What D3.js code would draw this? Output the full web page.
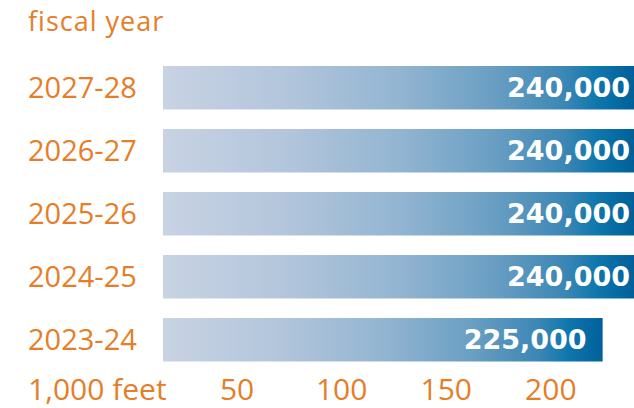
<!DOCTYPE html>
<html>
<head>
<meta charset="utf-8">
<script src="https://cdn.jsdelivr.net/npm/d3@7"></script>
<style>
  body { margin: 0; background: #fff; }
  svg { display: block; }
  text { font-family: "Open Sans", sans-serif; }
</style>
</head>
<body>
<div id="chart"></div>
<script>
// data
const years = ["2027-28", "2026-27", "2025-26", "2024-25", "2023-24"]
const feet = [240, 240, 240, 240, 225]   // thousands of feet
const tickValues = [50, 100, 150, 200]

const width = 634, height = 408
const orange = "#e67d28"
const barLeft = 163

const svg = d3.select("#chart")
    .append("svg")
    .attr("width", width)
    .attr("height", height)

const x = d3.scaleLinear()
    .domain([0, 240])
    .range([132, 634])

const y = d3.scaleBand()
    .domain(years)
    .range([66, 361.5])
    .paddingInner(0.31)

// gradient light -> dark blue across each bar
const grad = svg.append("defs").append("linearGradient")
    .attr("id", "barGrad")
    .attr("x1", "0%").attr("x2", "100%")
    .attr("y1", "0%").attr("y2", "0%")
const stops = [
    [0, "#c8d3e3"], [0.25, "#b4c6dc"], [0.5, "#93b5d1"],
    [0.7, "#6a9fc3"], [0.85, "#3d87b5"], [0.92, "#0f77ad"], [1, "#00609a"]
]
grad.selectAll("stop")
    .data(stops)
    .enter()
    .append("stop")
    .attr("offset", d => d[0])
    .attr("stop-color", d => d[1])

const rows = years.map((yr, i) => ({year: yr, value: feet[i]}))

// header
svg.append("text")
    .attr("x", 28)
    .attr("y", 31)
    .style("font-size", "27px")
    .style("letter-spacing", "1px")
    .style("fill", orange)
    .text("fiscal year")

// bars
svg.selectAll("rect.bar")
    .data(rows)
    .enter()
    .append("rect")
    .attr("class", "bar")
    .attr("x", barLeft)
    .attr("y", d => y(d.year))
    .attr("width", d => x(d.value) - barLeft)
    .attr("height", y.bandwidth())
    .style("fill", "url(#barGrad)")

// year labels
svg.selectAll("text.year")
    .data(rows)
    .enter()
    .append("text")
    .attr("class", "year")
    .attr("x", 28)
    .attr("y", d => y(d.year) + y.bandwidth() / 2)
    .attr("dy", "0.36em")
    .style("font-size", "29px")
    .style("fill", orange)
    .text(d => d.year)

// value labels (bars that run to the edge keep their label near the edge)
const labelEnd = v => x(v) >= width - 1 ? width - 4 : x(v) - 16
svg.selectAll("text.value")
    .data(rows)
    .enter()
    .append("text")
    .attr("class", "value")
    .attr("x", d => labelEnd(d.value))
    .attr("y", d => y(d.year) + y.bandwidth() / 2)
    .attr("dy", "0.36em")
    .attr("text-anchor", "end")
    .style("font-family", "'DejaVu Sans', sans-serif")
    .style("font-weight", "bold")
    .style("font-size", "27px")
    .style("fill", "#fff")
    .text(d => d3.format(",")(d.value * 1000))

// bottom axis
const axis = svg.append("g")
    .attr("transform", "translate(0,400)")
    .call(d3.axisBottom(x).tickValues(tickValues).tickSize(0).tickFormat(d3.format("d")))
axis.select(".domain").remove()
axis.selectAll("text")
    .attr("y", 0)
    .attr("dy", 0)
    .style("font-family", "'Open Sans', sans-serif")
    .style("font-size", "30px")
    .style("fill", orange)

svg.append("text")
    .attr("x", 28)
    .attr("y", 400)
    .style("font-size", "30px")
    .style("fill", orange)
    .text("1,000 feet")
</script>
</body>
</html>
